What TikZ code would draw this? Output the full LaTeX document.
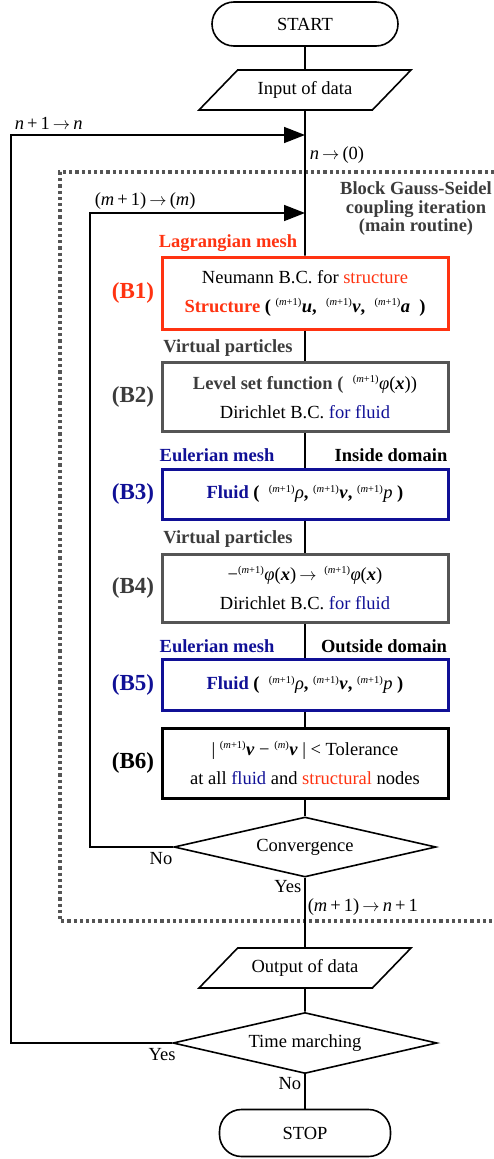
\documentclass[tikz,border=0pt]{standalone}
\usepackage{fontspec}
\setmainfont{Liberation Serif}
\usetikzlibrary{arrows.meta, shapes.geometric}

\definecolor{sred}{RGB}{255,51,17}
\definecolor{fblue}{RGB}{16,16,150}
\definecolor{vgray}{RGB}{60,60,60}
\definecolor{bgray}{RGB}{85,85,85}

\newcommand{\mpre}[1]{\textsuperscript{\fontsize{10.5}{10.5}\selectfont(#1)}}
\newcommand{\vb}[1]{\textbf{\textit{#1}}}
\newcommand{\goes}{\,$\rightarrow$\,}

\begin{document}
\begin{tikzpicture}[x=1pt, y=-1pt,
		font=\fontsize{18.5}{29}\selectfont,
		line width=1.6pt,
		term/.style={draw, rounded corners=22pt, minimum width=186pt, minimum height=44pt, inner sep=0pt},
		io/.style={draw, trapezium, trapezium left angle=46, trapezium right angle=134, trapezium stretches body,
			text height=12.6pt, text depth=4pt, inner xsep=0pt, inner ysep=11.7pt, outer sep=0pt, minimum width=212pt},
		decide/.style={draw, diamond, aspect=4.4, minimum width=262pt, minimum height=60pt, inner sep=0pt},
		block/.style={draw, line width=3pt, minimum width=286pt, align=center, inner sep=0pt},
		blabel/.style={font=\fontsize{23}{23}\selectfont\bfseries},
		meshlabel/.style={font=\fontsize{18.5}{18.5}\selectfont\bfseries, inner sep=0pt},
		note/.style={inner sep=0pt},
		link/.style={-{Triangle[length=21pt,width=16pt]}}]
		
		\useasboundingbox (0,0) rectangle (494,1159);
		
		% coupling iteration frame
		\draw[bgray, line width=3.4pt, dash pattern=on 3.2pt off 3pt] (494,172) -- (60,172) -- (60,921) -- (494,921);
		
		\node[term] (start) at (305,24) {START};
		\node[io] (input) at (305,90) {Input of data};
		\coordinate (njoin) at (305,135);
		\coordinate (mjoin) at (305,213);
		
		\node[block, draw=sred, minimum height=72pt] (b1) at (305,293)
			{Neumann B.C. for \textcolor{sred}{structure}\\
			\textcolor{sred}{\textbf{Structure}} \textbf{(} \mpre{\textit{m}+1}\vb{u}\textbf{,} \ \mpre{\textit{m}+1}\vb{v}\textbf{,} \ \mpre{\textit{m}+1}\vb{a} \ \textbf{)}};
		\node[block, draw=bgray, minimum height=69pt] (b2) at (305,397)
			{\textcolor{vgray}{\textbf{Level set function (}} \ \mpre{\textit{m}+1}\textit{φ}(\vb{x}))\\
			Dirichlet B.C. \textcolor{fblue}{for fluid}};
		\node[block, draw=fblue, minimum height=50pt] (b3) at (305,494)
			{\textcolor{fblue}{\textbf{Fluid}} \textbf{(} \ \mpre{\textit{m}+1}\textit{ρ}\textbf{,} \mpre{\textit{m}+1}\vb{v}\textbf{,} \mpre{\textit{m}+1}\textit{p} \textbf{)}};
		\node[block, draw=bgray, minimum height=68pt] (b4) at (305,588)
			{−\mpre{\textit{m}+1}\textit{φ}(\vb{x})\goes\ \mpre{\textit{m}+1}\textit{φ}(\vb{x})\\
			Dirichlet B.C. \textcolor{fblue}{for fluid}};
		\node[block, draw=fblue, minimum height=51pt] (b5) at (305,685)
			{\textcolor{fblue}{\textbf{Fluid}} \textbf{(} \ \mpre{\textit{m}+1}\textit{ρ}\textbf{,} \mpre{\textit{m}+1}\vb{v}\textbf{,} \mpre{\textit{m}+1}\textit{p} \textbf{)}};
		\node[block, draw=black, minimum height=70pt] (b6) at (305,763)
			{| \mpre{\textit{m}+1}\vb{v} − \mpre{\textit{m}}\vb{v} | < Tolerance\\
			at all \textcolor{fblue}{fluid} and \textcolor{sred}{structural} nodes};
		
		\node[decide] (conv) at (305,847) {Convergence};
		\node[io] (output) at (305,968) {Output of data};
		\node[decide, minimum width=264pt, minimum height=61pt] (march) at (305,1043) {Time marching};
		\node[term, minimum width=171pt, minimum height=47pt] (stop) at (305,1133) {STOP};
		
		\draw (start) -- (input);
		\draw (input) -- (b1);
		\foreach \a/\b in {b1/b2, b2/b3, b3/b4, b4/b5, b5/b6, b6/conv, conv/output, output/march, march/stop}
			\draw (\a) -- (\b);
		
		\draw[link] (conv.west) -- ++(-83,0) |- (mjoin);
		\draw[link] (march.west) -- ++(-161,0) |- (njoin);
		
		% block tags
		\node[blabel, sred] (t1) at (133,293) {(B1)};
		\node[blabel, vgray] (t2) at (133,397) {(B2)};
		\node[blabel, fblue] (t3) at (133,494) {(B3)};
		\node[blabel, vgray] (t4) at (133,588) {(B4)};
		\node[blabel, fblue] (t5) at (133,685) {(B5)};
		\node[blabel] (t6) at (133,763) {(B6)};
		
		% mesh notes
		\node[meshlabel, sred] (lag) at (228,243) {Lagrangian mesh};
		\node[meshlabel, vgray] (vp1) at (228,348) {Virtual particles};
		\node[meshlabel, fblue] (eu1) at (217,455) {Eulerian mesh};
		\node[meshlabel] (ins) at (391,455) {Inside domain};
		\node[meshlabel, vgray] (vp2) at (228,539) {Virtual particles};
		\node[meshlabel, fblue] (eu2) at (217,646) {Eulerian mesh};
		\node[meshlabel] (outs) at (384,646) {Outside domain};
		\node[font=\fontsize{18.5}{18.5}\selectfont\bfseries, align=center, vgray] (gs) at (416,209)
			{Block Gauss-Seidel\\coupling iteration\\(main routine)};
		
		% loop notes
		\node[note, anchor=west] (nn) at (14,123) {\textit{n}\,+\,1\goes\textit{n}};
		\node[note, anchor=west] (n0) at (309,155) {\textit{n}\goes(0)};
		\node[note, anchor=west] (mm) at (94,201) {(\textit{m}\,+\,1)\goes(\textit{m})};
		\node[note] (cno) at (161,859) {No};
		\node[note, anchor=east] (cyes) at (302,887) {Yes};
		\node[note, anchor=west] (mn) at (307,907) {(\textit{m}\,+\,1)\goes\textit{n}\,+\,1};
		\node[note] (tyes) at (162,1055) {Yes};
		\node[note, anchor=east] (tno) at (302,1084) {No};
	\end{tikzpicture}
\end{document}
